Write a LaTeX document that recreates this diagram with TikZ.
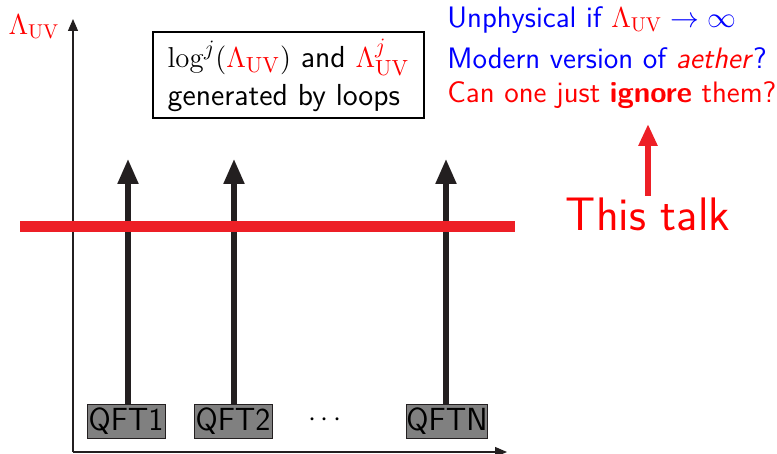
\documentclass[tikz,border=0pt]{standalone}
\usetikzlibrary{arrows.meta}
\definecolor{lred}{RGB}{237,31,38}
\definecolor{dblack}{RGB}{35,31,32}
\definecolor{qgray}{RGB}{128,128,128}
\begin{document}
\begin{tikzpicture}[x=0.5pt,y=-0.5pt,
  axis/.style={draw=dblack, line width=0.6pt, -{Triangle[length=6pt,width=5pt]}},
  qarrow/.style={draw=dblack, line width=2.6pt, -{Triangle[length=12.5pt,width=10pt]}},
  qftbox/.style={draw=dblack, fill=qgray, line width=0.5pt, inner sep=0pt, minimum width=39pt, minimum height=16.5pt, font=\sffamily\fontsize{16}{18}\selectfont},
  rtext/.style={inner sep=0pt, anchor=west, font=\sffamily\fontsize{14.8}{17}\selectfont}]
\useasboundingbox (0,0) rectangle (777,454);
% axes
\coordinate (O) at (73,452);
\coordinate (ytop) at (73,19);
\coordinate (xend) at (507,452);
\draw[axis] (O) -- (ytop);
\draw[axis] (O) -- (xend);
\node[inner sep=0pt, text=red, font=\fontsize{14}{16}\selectfont] (lab) at (34,27) {$\Lambda_{\mathrm{UV}}$};
% box
\node[draw=black, line width=1.2pt, inner sep=0pt, minimum width=135.5pt, minimum height=43pt, align=left, font=\sffamily\fontsize{15.2}{19}\selectfont] (box) at (288.5,75)
 {$\log^j(\textcolor{red}{\Lambda_{\mathrm{UV}}})$ and $\textcolor{red}{\Lambda_{\mathrm{UV}}^j}$\\generated by loops};
% QFT boxes
\node[qftbox] (q1) at (126,421.5) {QFT1};
\node[qftbox] (q2) at (233,421.5) {QFT2};
\node[qftbox] (qn) at (447,421.5) {QFTN};
\node[inner sep=0pt, font=\fontsize{14}{16}\selectfont] (dots) at (325,420) {$\cdots$};
\coordinate (t1) at (128,159);
\coordinate (t2) at (234,159);
\coordinate (tn) at (446,159);
\draw[qarrow] (q1.north -| t1) -- (t1);
\draw[qarrow] (q2.north -| t2) -- (t2);
\draw[qarrow] (qn.north -| tn) -- (tn);
% red line
\coordinate (rl) at (20,227);
\coordinate (rr) at (515,227);
\draw[lred, line width=5.5pt] (rl) -- (rr);
% right texts
\node[rtext, text=blue] (l1) at (447,20) {Unphysical if $\textcolor{red}{\Lambda_{\mathrm{UV}}}\to\infty$};
\node[rtext, text=blue] (l2) at (447,58) {Modern version of \textcolor{red}{\textit{aether}}?};
\node[rtext, text=red] (l3) at (447,95) {Can one just \textbf{ignore} them?};
% this talk
\node[inner sep=0pt, text=red, font=\sffamily\fontsize{23.5}{26}\selectfont] (talk) at (648,214) {This talk};
\coordinate (tt) at (648,124);
\draw[lred, line width=3pt, -{Triangle[length=11pt,width=9pt]}] (648,196) -- (tt);
\end{tikzpicture}
\end{document}
